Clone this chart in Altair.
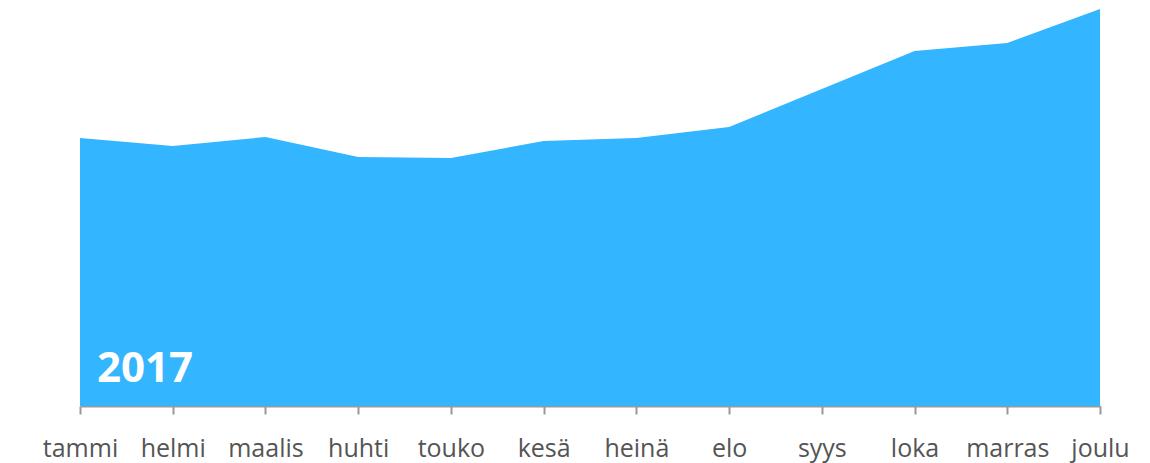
import altair as alt
import pandas as pd

months = ["tammi", "helmi", "maalis", "huhti", "touko", "kesä",
          "heinä", "elo", "syys", "loka", "marras", "joulu"]
values = [268, 260, 269, 249, 248, 265, 268, 279, 317, 355, 363, 397]
year_label = "2017"

df = pd.DataFrame({"kuukausi": months, "arvo": values})

x = alt.X("kuukausi:N", sort=months,
          scale=alt.Scale(type="point", padding=0),
          axis=alt.Axis(title=None, labelAngle=0, labelFont="Open Sans",
                        labelFontSize=25, labelColor="#555555",
                        labelPadding=22, domainColor="#999999",
                        domainWidth=2, tickColor="#999999", tickWidth=2,
                        tickSize=8, grid=False))
y = alt.Y("arvo:Q", scale=alt.Scale(domain=[0, 398], nice=False, zero=True),
          axis=None)

area = alt.Chart(df).mark_area(color="#33B5FF", opacity=1).encode(x=x, y=y)

label = alt.Chart(pd.DataFrame({"kuukausi": [months[0]], "arvo": [0], "t": [year_label]})).mark_text(
    align="left", baseline="alphabetic", dx=17, dy=-24,
    font="Open Sans", fontWeight="bold", fontSize=42, color="white"
).encode(x=alt.X("kuukausi:N", sort=months), y="arvo:Q", text="t:N")

chart = alt.layer(area, label).properties(
    width=1020, height=398,
    autosize=alt.AutoSizeParams(type="none"),
    padding={"left": 72, "top": 0, "right": 42, "bottom": 57},
).configure_view(stroke=None)

chart.save("out.html", embed_options={"renderer": "svg", "actions": False})
